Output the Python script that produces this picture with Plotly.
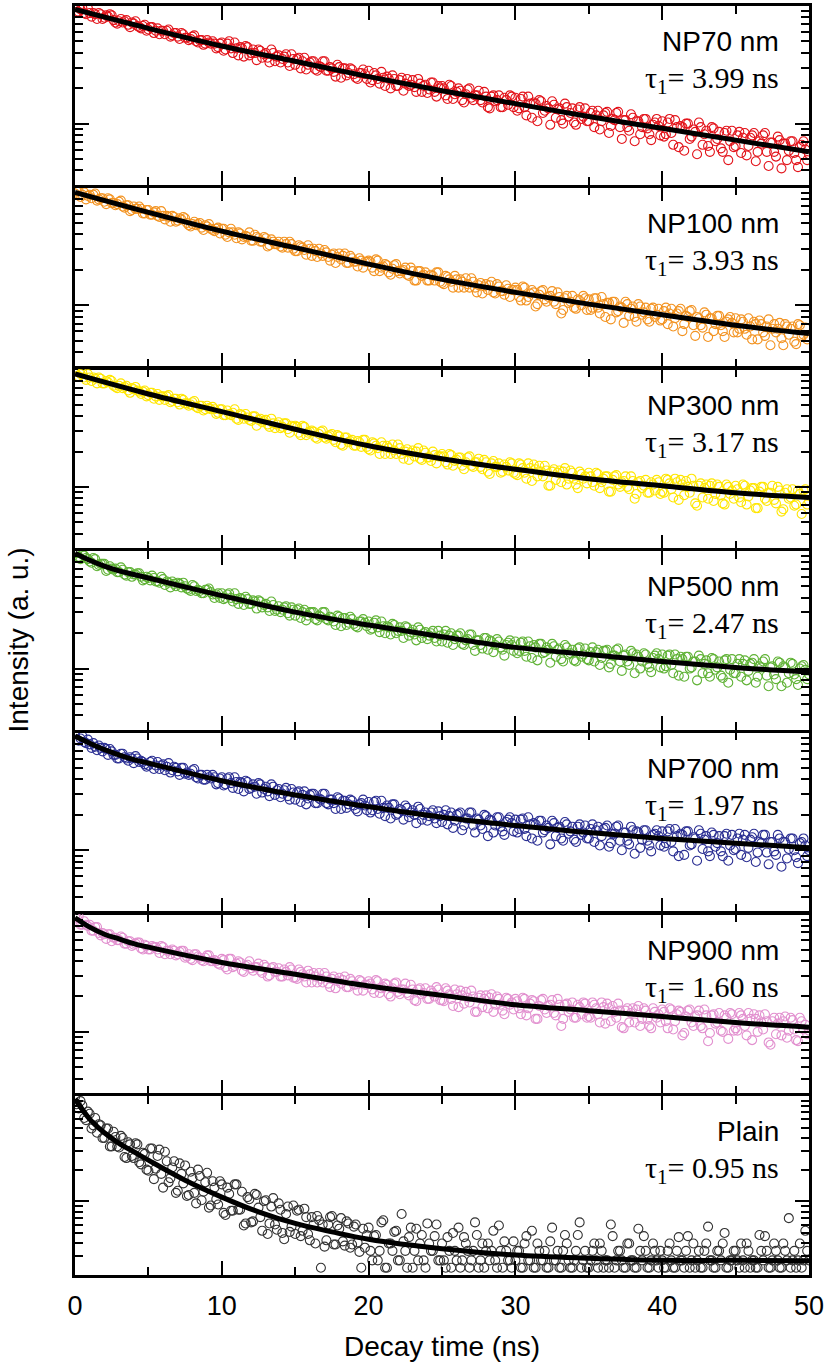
import math
import plotly.graph_objects as go
from plotly.subplots import make_subplots

# ---------------- data ----------------
# time channels (ns)
time_ns = [
    0, 0.25, 0.5, 0.75, 1, 1.25, 1.5, 1.75, 2, 2.25, 2.5, 2.75, 3, 3.25, 3.5, 3.75, 4, 4.25, 4.5, 4.75,
    5, 5.25, 5.5, 5.75, 6, 6.25, 6.5, 6.75, 7, 7.25, 7.5, 7.75, 8, 8.25, 8.5, 8.75, 9, 9.25, 9.5, 9.75,
    10, 10.25, 10.5, 10.75, 11, 11.25, 11.5, 11.75, 12, 12.25, 12.5, 12.75, 13, 13.25, 13.5, 13.75, 14, 14.25, 14.5, 14.75,
    15, 15.25, 15.5, 15.75, 16, 16.25, 16.5, 16.75, 17, 17.25, 17.5, 17.75, 18, 18.25, 18.5, 18.75, 19, 19.25, 19.5, 19.75,
    20, 20.25, 20.5, 20.75, 21, 21.25, 21.5, 21.75, 22, 22.25, 22.5, 22.75, 23, 23.25, 23.5, 23.75, 24, 24.25, 24.5, 24.75,
    25, 25.25, 25.5, 25.75, 26, 26.25, 26.5, 26.75, 27, 27.25, 27.5, 27.75, 28, 28.25, 28.5, 28.75, 29, 29.25, 29.5, 29.75,
    30, 30.25, 30.5, 30.75, 31, 31.25, 31.5, 31.75, 32, 32.25, 32.5, 32.75, 33, 33.25, 33.5, 33.75, 34, 34.25, 34.5, 34.75,
    35, 35.25, 35.5, 35.75, 36, 36.25, 36.5, 36.75, 37, 37.25, 37.5, 37.75, 38, 38.25, 38.5, 38.75, 39, 39.25, 39.5, 39.75,
    40, 40.25, 40.5, 40.75, 41, 41.25, 41.5, 41.75, 42, 42.25, 42.5, 42.75, 43, 43.25, 43.5, 43.75, 44, 44.25, 44.5, 44.75,
    45, 45.25, 45.5, 45.75, 46, 46.25, 46.5, 46.75, 47, 47.25, 47.5, 47.75, 48, 48.25, 48.5, 48.75, 49, 49.25, 49.5, 49.75,
    50,
]
time_ns_half = [
    0.125, 0.375, 0.625, 0.875, 1.125, 1.375, 1.625, 1.875, 2.125, 2.375, 2.625, 2.875, 3.125, 3.375, 3.625, 3.875, 4.125, 4.375, 4.625, 4.875,
    5.125, 5.375, 5.625, 5.875, 6.125, 6.375, 6.625, 6.875, 7.125, 7.375, 7.625, 7.875, 8.125, 8.375, 8.625, 8.875, 9.125, 9.375, 9.625, 9.875,
    10.125, 10.375, 10.625, 10.875, 11.125, 11.375, 11.625, 11.875, 12.125, 12.375, 12.625, 12.875, 13.125, 13.375, 13.625, 13.875, 14.125, 14.375, 14.625, 14.875,
    15.125, 15.375, 15.625, 15.875, 16.125, 16.375, 16.625, 16.875, 17.125, 17.375, 17.625, 17.875, 18.125, 18.375, 18.625, 18.875, 19.125, 19.375, 19.625, 19.875,
    20.125, 20.375, 20.625, 20.875, 21.125, 21.375, 21.625, 21.875, 22.125, 22.375, 22.625, 22.875, 23.125, 23.375, 23.625, 23.875, 24.125, 24.375, 24.625, 24.875,
    25.125, 25.375, 25.625, 25.875, 26.125, 26.375, 26.625, 26.875, 27.125, 27.375, 27.625, 27.875, 28.125, 28.375, 28.625, 28.875, 29.125, 29.375, 29.625, 29.875,
    30.125, 30.375, 30.625, 30.875, 31.125, 31.375, 31.625, 31.875, 32.125, 32.375, 32.625, 32.875, 33.125, 33.375, 33.625, 33.875, 34.125, 34.375, 34.625, 34.875,
    35.125, 35.375, 35.625, 35.875, 36.125, 36.375, 36.625, 36.875, 37.125, 37.375, 37.625, 37.875, 38.125, 38.375, 38.625, 38.875, 39.125, 39.375, 39.625, 39.875,
    40.125, 40.375, 40.625, 40.875, 41.125, 41.375, 41.625, 41.875, 42.125, 42.375, 42.625, 42.875, 43.125, 43.375, 43.625, 43.875, 44.125, 44.375, 44.625, 44.875,
    45.125, 45.375, 45.625, 45.875, 46.125, 46.375, 46.625, 46.875, 47.125, 47.375, 47.625, 47.875, 48.125, 48.375, 48.625, 48.875, 49.125, 49.375, 49.625, 49.875,
]

# measured decays, log10(intensity, a.u.), on the time_ns channels
np70_log = [
    1.99, 1.95, 1.98, 1.93, 1.94, 1.94, 1.89, 1.93, 1.90, 1.91, 1.92, 1.86, 1.87, 1.86, 1.88, 1.82, 1.85, 1.83, 1.81, 1.84,
    1.80, 1.82, 1.79, 1.76, 1.79, 1.79, 1.74, 1.77, 1.74, 1.77, 1.73, 1.71, 1.74, 1.70, 1.71, 1.67, 1.71, 1.68, 1.68, 1.65,
    1.69, 1.63, 1.70, 1.60, 1.64, 1.65, 1.57, 1.65, 1.60, 1.60, 1.63, 1.56, 1.60, 1.52, 1.60, 1.57, 1.52, 1.57, 1.52, 1.59,
    1.50, 1.56, 1.53, 1.46, 1.52, 1.53, 1.45, 1.48, 1.53, 1.45, 1.47, 1.40, 1.48, 1.47, 1.41, 1.47, 1.42, 1.38, 1.43, 1.42,
    1.45, 1.37, 1.41, 1.34, 1.39, 1.40, 1.30, 1.38, 1.32, 1.39, 1.34, 1.32, 1.37, 1.27, 1.34, 1.32, 1.26, 1.35, 1.27, 1.32,
    1.32, 1.24, 1.33, 1.21, 1.27, 1.28, 1.18, 1.29, 1.22, 1.24, 1.28, 1.18, 1.23, 1.13, 1.24, 1.20, 1.14, 1.22, 1.16, 1.23,
    1.22, 1.13, 1.23, 1.07, 1.17, 1.18, 1.02, 1.19, 1.11, 1.13, 1.19, 1.05, 1.13, 1.00, 1.14, 1.09, 1.01, 1.12, 1.04, 1.13,
    1.02, 1.11, 1.07, 0.95, 1.07, 1.10, 0.98, 1.03, 1.10, 0.87, 1.03, 0.94, 1.05, 1.02, 0.91, 1.04, 0.96, 0.86, 1.01, 0.98,
    1.02, 0.91, 1.04, 0.82, 0.97, 0.98, 0.77, 1.00, 0.89, 0.93, 1.01, 0.82, 0.94, 0.76, 0.96, 0.87, 0.79, 0.92, 0.69, 0.94,
    0.81, 0.93, 0.88, 0.73, 0.88, 0.92, 0.76, 0.83, 0.92, 0.64, 0.84, 0.72, 0.86, 0.83, 0.69, 0.85, 0.75, 0.63, 0.82, 0.78,
    0.74,
]
np100_log = [
    1.95, 1.97, 1.94, 1.90, 1.94, 1.94, 1.89, 1.91, 1.88, 1.91, 1.87, 1.85, 1.88, 1.84, 1.85, 1.80, 1.84, 1.82, 1.82, 1.78,
    1.81, 1.77, 1.80, 1.75, 1.76, 1.76, 1.71, 1.75, 1.72, 1.73, 1.74, 1.68, 1.69, 1.68, 1.70, 1.64, 1.67, 1.65, 1.63, 1.66,
    1.65, 1.60, 1.62, 1.62, 1.57, 1.61, 1.58, 1.58, 1.55, 1.60, 1.57, 1.54, 1.57, 1.51, 1.54, 1.52, 1.50, 1.54, 1.49, 1.52,
    1.46, 1.51, 1.49, 1.43, 1.48, 1.48, 1.41, 1.44, 1.47, 1.41, 1.43, 1.36, 1.44, 1.42, 1.36, 1.42, 1.37, 1.33, 1.38, 1.37,
    1.38, 1.32, 1.39, 1.29, 1.33, 1.34, 1.26, 1.34, 1.29, 1.29, 1.32, 1.25, 1.29, 1.21, 1.29, 1.26, 1.21, 1.26, 1.21, 1.28,
    1.19, 1.25, 1.22, 1.15, 1.22, 1.22, 1.15, 1.18, 1.23, 1.15, 1.17, 1.10, 1.18, 1.17, 1.11, 1.18, 1.12, 1.09, 1.14, 1.13,
    1.15, 1.07, 1.16, 1.04, 1.10, 1.11, 1.01, 1.12, 1.05, 1.07, 1.12, 1.01, 1.07, 0.96, 1.08, 1.03, 0.98, 1.05, 1.00, 1.06,
    1.05, 0.98, 1.06, 0.93, 1.01, 1.02, 0.88, 1.03, 0.95, 0.98, 1.03, 0.91, 0.99, 0.86, 0.99, 0.94, 0.88, 0.97, 0.90, 0.97,
    0.88, 0.98, 0.93, 0.82, 0.93, 0.97, 0.84, 0.90, 0.96, 0.74, 0.89, 0.81, 0.92, 0.89, 0.78, 0.91, 0.83, 0.73, 0.88, 0.85,
    0.89, 0.80, 0.86, 0.75, 0.82, 0.86, 0.71, 0.84, 0.74, 0.88, 0.80, 0.77, 0.85, 0.66, 0.82, 0.80, 0.69, 0.84, 0.74, 0.81,
    0.73,
]
np300_log = [
    1.98, 1.94, 1.97, 1.91, 1.93, 1.93, 1.88, 1.92, 1.88, 1.89, 1.90, 1.85, 1.86, 1.84, 1.86, 1.80, 1.83, 1.82, 1.79, 1.82,
    1.78, 1.80, 1.77, 1.74, 1.77, 1.77, 1.72, 1.75, 1.72, 1.75, 1.71, 1.69, 1.72, 1.68, 1.69, 1.65, 1.69, 1.66, 1.66, 1.63,
    1.66, 1.61, 1.62, 1.63, 1.58, 1.62, 1.58, 1.59, 1.56, 1.60, 1.57, 1.55, 1.57, 1.51, 1.54, 1.53, 1.50, 1.54, 1.49, 1.52,
    1.52, 1.46, 1.52, 1.44, 1.47, 1.47, 1.41, 1.47, 1.42, 1.43, 1.45, 1.38, 1.43, 1.35, 1.42, 1.39, 1.35, 1.39, 1.34, 1.40,
    1.32, 1.38, 1.35, 1.28, 1.35, 1.35, 1.28, 1.31, 1.36, 1.28, 1.30, 1.23, 1.31, 1.30, 1.24, 1.31, 1.25, 1.22, 1.27, 1.26,
    1.28, 1.21, 1.28, 1.18, 1.23, 1.25, 1.15, 1.25, 1.18, 1.21, 1.24, 1.15, 1.21, 1.11, 1.22, 1.17, 1.12, 1.19, 1.14, 1.20,
    1.11, 1.20, 1.16, 1.07, 1.16, 1.19, 1.09, 1.13, 1.18, 1.01, 1.13, 1.06, 1.14, 1.13, 1.02, 1.14, 1.07, 0.99, 1.11, 1.09,
    1.12, 1.04, 1.12, 0.99, 1.07, 1.09, 0.96, 1.09, 1.02, 1.04, 1.09, 0.98, 1.05, 0.94, 1.05, 1.01, 0.95, 1.04, 0.97, 1.04,
    0.96, 1.07, 1.03, 0.91, 1.04, 1.06, 0.93, 1.00, 1.07, 0.86, 1.01, 0.91, 1.02, 1.01, 0.88, 1.02, 0.93, 0.85, 1.00, 0.97,
    1.01, 0.91, 1.02, 0.85, 0.97, 0.99, 0.82, 1.00, 0.90, 0.95, 1.01, 0.86, 0.97, 0.81, 0.98, 0.91, 0.84, 0.97, 0.77, 0.98,
    0.88,
]
np500_log = [
    1.99, 1.95, 1.97, 1.94, 1.91, 1.94, 1.87, 1.89, 1.89, 1.84, 1.85, 1.85, 1.82, 1.84, 1.79, 1.82, 1.80, 1.81, 1.78, 1.76,
    1.77, 1.79, 1.74, 1.73, 1.76, 1.74, 1.69, 1.72, 1.73, 1.69, 1.70, 1.67, 1.71, 1.66, 1.66, 1.64, 1.67, 1.65, 1.60, 1.64,
    1.64, 1.60, 1.64, 1.57, 1.59, 1.60, 1.54, 1.59, 1.55, 1.57, 1.58, 1.52, 1.55, 1.49, 1.54, 1.50, 1.48, 1.52, 1.47, 1.52,
    1.45, 1.51, 1.48, 1.41, 1.48, 1.48, 1.41, 1.44, 1.48, 1.41, 1.43, 1.37, 1.44, 1.43, 1.37, 1.44, 1.38, 1.35, 1.40, 1.39,
    1.40, 1.34, 1.41, 1.31, 1.36, 1.36, 1.29, 1.37, 1.32, 1.32, 1.36, 1.28, 1.33, 1.24, 1.33, 1.30, 1.25, 1.30, 1.26, 1.32,
    1.23, 1.32, 1.28, 1.20, 1.28, 1.30, 1.20, 1.25, 1.29, 1.15, 1.24, 1.17, 1.26, 1.24, 1.14, 1.25, 1.18, 1.11, 1.22, 1.20,
    1.23, 1.15, 1.23, 1.10, 1.19, 1.20, 1.07, 1.21, 1.14, 1.16, 1.21, 1.10, 1.17, 1.06, 1.18, 1.13, 1.07, 1.17, 1.10, 1.17,
    1.07, 1.18, 1.14, 1.03, 1.15, 1.16, 1.04, 1.11, 1.17, 0.98, 1.12, 1.03, 1.13, 1.12, 1.00, 1.13, 1.04, 0.97, 1.11, 1.08,
    1.12, 1.02, 1.12, 0.96, 1.08, 1.10, 0.93, 1.10, 1.01, 1.06, 1.11, 0.96, 1.07, 0.93, 1.08, 1.01, 0.94, 1.07, 0.88, 1.08,
    0.96, 1.08, 1.04, 0.90, 1.04, 1.08, 0.93, 1.01, 1.08, 0.85, 1.02, 0.91, 1.05, 1.02, 0.88, 1.05, 0.95, 0.86, 1.02, 0.99,
    0.95,
]
np700_log = [
    1.99, 1.93, 1.97, 1.91, 1.90, 1.91, 1.85, 1.87, 1.87, 1.81, 1.84, 1.81, 1.78, 1.82, 1.78, 1.79, 1.74, 1.78, 1.76, 1.73,
    1.72, 1.76, 1.72, 1.69, 1.73, 1.71, 1.66, 1.71, 1.67, 1.70, 1.65, 1.64, 1.68, 1.62, 1.64, 1.60, 1.64, 1.61, 1.62, 1.57,
    1.62, 1.56, 1.62, 1.53, 1.58, 1.58, 1.50, 1.58, 1.53, 1.54, 1.57, 1.49, 1.54, 1.46, 1.54, 1.51, 1.45, 1.51, 1.46, 1.52,
    1.43, 1.50, 1.47, 1.39, 1.47, 1.48, 1.40, 1.43, 1.48, 1.39, 1.43, 1.35, 1.44, 1.42, 1.36, 1.43, 1.38, 1.33, 1.40, 1.38,
    1.41, 1.34, 1.42, 1.31, 1.36, 1.38, 1.27, 1.39, 1.31, 1.34, 1.38, 1.28, 1.34, 1.23, 1.35, 1.30, 1.25, 1.32, 1.27, 1.33,
    1.24, 1.34, 1.29, 1.19, 1.30, 1.32, 1.21, 1.27, 1.32, 1.15, 1.26, 1.18, 1.29, 1.26, 1.15, 1.28, 1.20, 1.13, 1.26, 1.23,
    1.26, 1.18, 1.27, 1.12, 1.22, 1.23, 1.08, 1.25, 1.17, 1.19, 1.25, 1.12, 1.20, 1.08, 1.22, 1.16, 1.09, 1.20, 1.13, 1.21,
    1.10, 1.22, 1.17, 1.04, 1.18, 1.21, 1.06, 1.14, 1.21, 1.00, 1.15, 1.05, 1.17, 1.16, 1.02, 1.17, 1.08, 0.99, 1.14, 1.12,
    1.16, 1.06, 1.18, 0.99, 1.12, 1.14, 0.96, 1.16, 1.05, 1.10, 1.17, 1.01, 1.12, 0.95, 1.13, 1.06, 0.99, 1.12, 0.91, 1.13,
    1.01, 1.14, 1.09, 0.94, 1.09, 1.14, 0.98, 1.06, 1.13, 0.88, 1.07, 0.96, 1.10, 1.07, 0.93, 1.10, 1.00, 0.89, 1.07, 1.04,
    1.00,
]
np900_log = [
    1.98, 1.98, 1.91, 1.91, 1.91, 1.86, 1.89, 1.82, 1.83, 1.83, 1.77, 1.80, 1.78, 1.80, 1.75, 1.77, 1.74, 1.76, 1.71, 1.74,
    1.70, 1.73, 1.72, 1.67, 1.72, 1.69, 1.66, 1.69, 1.66, 1.69, 1.63, 1.66, 1.61, 1.66, 1.63, 1.60, 1.65, 1.60, 1.61, 1.58,
    1.62, 1.55, 1.62, 1.55, 1.58, 1.59, 1.51, 1.57, 1.54, 1.55, 1.58, 1.50, 1.55, 1.48, 1.55, 1.51, 1.47, 1.53, 1.48, 1.53,
    1.46, 1.53, 1.49, 1.42, 1.49, 1.50, 1.42, 1.45, 1.50, 1.41, 1.45, 1.37, 1.46, 1.44, 1.38, 1.45, 1.40, 1.35, 1.43, 1.40,
    1.43, 1.36, 1.44, 1.33, 1.38, 1.40, 1.30, 1.41, 1.34, 1.36, 1.41, 1.31, 1.36, 1.26, 1.37, 1.33, 1.28, 1.35, 1.30, 1.36,
    1.27, 1.37, 1.32, 1.22, 1.32, 1.35, 1.24, 1.29, 1.35, 1.17, 1.29, 1.21, 1.31, 1.29, 1.17, 1.30, 1.23, 1.15, 1.28, 1.25,
    1.28, 1.20, 1.29, 1.14, 1.24, 1.26, 1.11, 1.27, 1.19, 1.22, 1.27, 1.14, 1.23, 1.11, 1.24, 1.19, 1.12, 1.23, 1.15, 1.24,
    1.13, 1.25, 1.20, 1.08, 1.21, 1.24, 1.09, 1.17, 1.24, 1.04, 1.18, 1.08, 1.20, 1.19, 1.05, 1.20, 1.11, 1.03, 1.17, 1.15,
    1.19, 1.09, 1.20, 1.02, 1.15, 1.17, 0.99, 1.18, 1.08, 1.13, 1.18, 1.03, 1.14, 0.99, 1.15, 1.08, 1.01, 1.14, 0.94, 1.15,
    1.03, 1.16, 1.11, 0.97, 1.11, 1.15, 1.00, 1.08, 1.15, 0.91, 1.09, 0.98, 1.12, 1.09, 0.95, 1.12, 1.02, 0.92, 1.09, 1.06,
    1.01,
]
plain_log = [
    1.99, 1.88, 1.91, 1.77, 1.83, 1.72, 1.65, 1.72, 1.60, 1.69, 1.52, 1.61, 1.51, 1.60, 1.41, 1.54, 1.41, 1.54, 1.35, 1.45,
    1.29, 1.50, 1.31, 1.49, 1.13, 1.38, 1.22, 1.38, 1.10, 1.26, 1.34, 1.06, 1.22, 0.98, 1.24, 1.09, 1.27, 0.96, 1.13, 0.97,
    1.16, 0.87, 1.07, 0.91, 1.16, 0.92, 0.77, 1.04, 0.80, 1.07, 0.94, 0.72, 1.01, 0.79, 1.03, 0.73, 0.92, 0.64, 0.95, 0.76,
    0.69, 0.92, 0.72, 0.85, 0.63, 0.78, 0.86, 0.37, 0.57, 0.78, 0.86, 0.59, 0.74, 0.62, 0.81, 0.56, 0.76, 0.61, 0.37, 0.56,
    0.75, 0.44, 0.68, 0.53, 0.82, 0.37, 0.60, 0.71, 0.44, 0.88, 0.53, 0.66, 0.37, 0.74, 0.60, 0.44, 0.79, 0.53, 0.67, 0.44,
    0.60, 0.37, 0.53, 0.70, 0.44, 0.37, 0.66, 0.53, 0.44, 0.80, 0.37, 0.60, 0.53, 0.44, 0.72, 0.37, 0.53, 0.62, 0.44, 0.37,
    0.44, 0.53, 0.37, 0.67, 0.44, 0.37, 0.60, 0.44, 0.53, 0.37, 0.75, 0.44, 0.37, 0.53, 0.60, 0.37, 0.44, 0.68, 0.37, 0.53,
    0.37, 0.53, 0.44, 0.60, 0.37, 0.44, 0.78, 0.37, 0.53, 0.44, 0.37, 0.60, 0.44, 0.37, 0.53, 0.67, 0.37, 0.44, 0.53, 0.37,
    0.44, 0.37, 0.60, 0.37, 0.53, 0.44, 0.37, 0.67, 0.44, 0.37, 0.53, 0.37, 0.60, 0.44, 0.37, 0.53, 0.44, 0.70, 0.37, 0.44,
    0.53, 0.37, 0.44, 0.60, 0.37, 0.44, 0.37, 0.53, 0.67, 0.37, 0.44, 0.53, 0.37, 0.60, 0.44, 0.37, 0.53, 0.44, 0.37, 0.72,
    0.44,
]

# measured decays on the time_ns_half channels, log10(intensity, a.u.)
np70_log_half = [
    1.95, 1.97, 1.94, 1.98, 1.91, 1.93, 1.94, 1.89, 1.92, 1.93, 1.88, 1.85, 1.89, 1.87, 1.84, 1.86, 1.87, 1.82, 1.83, 1.79,
    1.82, 1.77, 1.81, 1.79, 1.76, 1.80, 1.75, 1.77, 1.72, 1.76, 1.73, 1.72, 1.75, 1.69, 1.71, 1.68, 1.69, 1.70, 1.64, 1.68,
    1.62, 1.68, 1.64, 1.69, 1.58, 1.64, 1.66, 1.58, 1.63, 1.54, 1.62, 1.59, 1.56, 1.63, 1.53, 1.58, 1.55, 1.59, 1.49, 1.55,
    1.55, 1.47, 1.56, 1.50, 1.53, 1.46, 1.49, 1.53, 1.45, 1.48, 1.44, 1.50, 1.39, 1.47, 1.43, 1.46, 1.39, 1.43, 1.46, 1.38,
    1.35, 1.43, 1.38, 1.44, 1.32, 1.38, 1.41, 1.32, 1.37, 1.28, 1.38, 1.33, 1.31, 1.38, 1.27, 1.33, 1.29, 1.35, 1.23, 1.30,
    1.30, 1.21, 1.32, 1.25, 1.30, 1.20, 1.25, 1.30, 1.20, 1.24, 1.20, 1.27, 1.14, 1.23, 1.19, 1.24, 1.14, 1.20, 1.24, 1.14,
    1.11, 1.21, 1.14, 1.23, 1.05, 1.17, 1.20, 1.09, 1.15, 0.99, 1.16, 1.12, 1.03, 1.17, 1.06, 1.13, 0.99, 1.14, 1.06, 1.02,
    1.09, 0.97, 1.11, 1.02, 1.09, 0.92, 1.04, 1.09, 0.97, 1.03, 0.97, 1.08, 0.85, 1.02, 0.97, 1.04, 0.91, 0.99, 1.04, 0.90,
    0.89, 1.01, 0.92, 1.03, 0.80, 0.97, 1.00, 0.87, 0.95, 0.74, 0.97, 0.91, 0.81, 0.97, 0.85, 0.93, 0.76, 0.94, 0.85, 0.80,
    0.90, 0.75, 0.92, 0.81, 0.90, 0.68, 0.85, 0.90, 0.76, 0.84, 0.76, 0.89, 0.62, 0.83, 0.77, 0.85, 0.69, 0.80, 0.85, 0.69,
]
np100_log_half = [
    1.97, 1.92, 1.96, 1.93, 1.91, 1.95, 1.90, 1.91, 1.86, 1.90, 1.87, 1.86, 1.89, 1.83, 1.85, 1.81, 1.82, 1.84, 1.78, 1.81,
    1.77, 1.79, 1.76, 1.80, 1.73, 1.75, 1.76, 1.71, 1.74, 1.75, 1.70, 1.67, 1.71, 1.69, 1.66, 1.68, 1.69, 1.64, 1.65, 1.61,
    1.65, 1.58, 1.65, 1.60, 1.62, 1.56, 1.59, 1.62, 1.55, 1.58, 1.54, 1.58, 1.50, 1.56, 1.52, 1.54, 1.49, 1.52, 1.54, 1.48,
    1.46, 1.50, 1.47, 1.51, 1.42, 1.46, 1.48, 1.42, 1.45, 1.38, 1.44, 1.41, 1.39, 1.44, 1.36, 1.40, 1.37, 1.40, 1.32, 1.37,
    1.37, 1.29, 1.38, 1.32, 1.35, 1.28, 1.31, 1.35, 1.27, 1.30, 1.26, 1.32, 1.21, 1.29, 1.25, 1.28, 1.21, 1.25, 1.28, 1.20,
    1.18, 1.24, 1.20, 1.25, 1.15, 1.20, 1.23, 1.15, 1.20, 1.11, 1.19, 1.16, 1.13, 1.20, 1.10, 1.16, 1.12, 1.17, 1.07, 1.13,
    1.13, 1.04, 1.15, 1.07, 1.13, 0.99, 1.09, 1.13, 1.03, 1.08, 1.03, 1.11, 0.93, 1.06, 1.02, 1.08, 0.97, 1.04, 1.08, 0.96,
    0.96, 1.06, 0.98, 1.07, 0.90, 1.02, 1.03, 0.94, 0.99, 0.85, 1.01, 0.97, 0.90, 1.01, 0.92, 0.98, 0.86, 0.98, 0.92, 0.87,
    0.95, 0.84, 0.97, 0.89, 0.95, 0.78, 0.91, 0.95, 0.83, 0.90, 0.83, 0.94, 0.73, 0.89, 0.84, 0.91, 0.78, 0.86, 0.90, 0.77,
    0.77, 0.88, 0.80, 0.89, 0.71, 0.84, 0.87, 0.77, 0.82, 0.66, 0.84, 0.80, 0.72, 0.84, 0.75, 0.82, 0.67, 0.83, 0.75, 0.71,
]
np300_log_half = [
    1.94, 1.96, 1.93, 1.96, 1.90, 1.92, 1.93, 1.88, 1.90, 1.91, 1.86, 1.84, 1.88, 1.85, 1.82, 1.84, 1.85, 1.81, 1.81, 1.77,
    1.80, 1.75, 1.79, 1.77, 1.74, 1.78, 1.73, 1.75, 1.70, 1.74, 1.71, 1.70, 1.73, 1.67, 1.69, 1.66, 1.67, 1.68, 1.62, 1.66,
    1.61, 1.65, 1.61, 1.66, 1.57, 1.61, 1.62, 1.57, 1.60, 1.52, 1.58, 1.56, 1.53, 1.58, 1.50, 1.55, 1.51, 1.54, 1.46, 1.51,
    1.51, 1.44, 1.51, 1.46, 1.48, 1.42, 1.45, 1.48, 1.41, 1.44, 1.40, 1.44, 1.36, 1.42, 1.38, 1.40, 1.35, 1.38, 1.40, 1.34,
    1.31, 1.37, 1.33, 1.38, 1.28, 1.33, 1.36, 1.28, 1.33, 1.24, 1.32, 1.29, 1.26, 1.33, 1.23, 1.29, 1.25, 1.30, 1.20, 1.26,
    1.26, 1.19, 1.27, 1.22, 1.25, 1.18, 1.21, 1.26, 1.17, 1.21, 1.17, 1.23, 1.13, 1.20, 1.17, 1.20, 1.13, 1.17, 1.21, 1.12,
    1.10, 1.19, 1.12, 1.20, 1.05, 1.15, 1.18, 1.09, 1.14, 1.01, 1.15, 1.12, 1.04, 1.16, 1.07, 1.12, 1.02, 1.13, 1.07, 1.03,
    1.09, 1.01, 1.11, 1.04, 1.09, 0.96, 1.06, 1.10, 1.00, 1.05, 1.00, 1.09, 0.90, 1.04, 0.99, 1.06, 0.95, 1.02, 1.06, 0.94,
    0.95, 1.06, 0.98, 1.07, 0.89, 1.02, 1.05, 0.95, 1.01, 0.84, 1.03, 0.99, 0.90, 1.03, 0.94, 1.00, 0.86, 1.02, 0.94, 0.90,
    0.98, 0.87, 1.01, 0.92, 0.99, 0.82, 0.96, 1.00, 0.88, 0.95, 0.89, 1.00, 0.79, 0.95, 0.90, 0.98, 0.85, 0.94, 0.97, 0.85,
]
np500_log_half = [
    1.98, 1.93, 1.96, 1.93, 1.90, 1.93, 1.88, 1.89, 1.83, 1.87, 1.84, 1.82, 1.86, 1.80, 1.82, 1.78, 1.80, 1.81, 1.75, 1.78,
    1.75, 1.77, 1.74, 1.78, 1.71, 1.73, 1.74, 1.70, 1.72, 1.73, 1.68, 1.66, 1.70, 1.67, 1.64, 1.67, 1.68, 1.63, 1.63, 1.60,
    1.59, 1.63, 1.60, 1.64, 1.55, 1.59, 1.61, 1.55, 1.58, 1.51, 1.57, 1.54, 1.52, 1.57, 1.49, 1.53, 1.50, 1.53, 1.45, 1.50,
    1.50, 1.43, 1.50, 1.45, 1.48, 1.42, 1.45, 1.48, 1.42, 1.44, 1.40, 1.45, 1.36, 1.43, 1.39, 1.42, 1.36, 1.40, 1.42, 1.36,
    1.33, 1.39, 1.35, 1.40, 1.30, 1.35, 1.38, 1.30, 1.35, 1.26, 1.35, 1.31, 1.29, 1.35, 1.26, 1.31, 1.28, 1.32, 1.23, 1.28,
    1.29, 1.22, 1.30, 1.25, 1.28, 1.21, 1.24, 1.29, 1.20, 1.24, 1.20, 1.26, 1.16, 1.23, 1.20, 1.23, 1.16, 1.20, 1.24, 1.15,
    1.13, 1.22, 1.15, 1.23, 1.09, 1.18, 1.21, 1.13, 1.18, 1.05, 1.19, 1.16, 1.08, 1.20, 1.12, 1.16, 1.06, 1.18, 1.12, 1.08,
    1.14, 1.06, 1.16, 1.09, 1.15, 1.01, 1.11, 1.16, 1.06, 1.11, 1.06, 1.15, 0.96, 1.10, 1.06, 1.12, 1.01, 1.09, 1.13, 1.01,
    1.00, 1.11, 1.03, 1.12, 0.94, 1.08, 1.10, 1.00, 1.06, 0.90, 1.08, 1.04, 0.96, 1.09, 0.99, 1.06, 0.92, 1.08, 0.99, 0.96,
    1.04, 0.93, 1.07, 0.98, 1.05, 0.88, 1.02, 1.06, 0.94, 1.01, 0.95, 1.06, 0.85, 1.01, 0.96, 1.04, 0.91, 1.00, 1.03, 0.91,
]
np700_log_half = [
    1.94, 1.95, 1.92, 1.94, 1.87, 1.88, 1.89, 1.84, 1.86, 1.86, 1.81, 1.78, 1.82, 1.79, 1.76, 1.78, 1.80, 1.75, 1.75, 1.71,
    1.75, 1.69, 1.75, 1.72, 1.68, 1.74, 1.68, 1.70, 1.64, 1.70, 1.66, 1.65, 1.69, 1.61, 1.64, 1.60, 1.62, 1.64, 1.56, 1.61,
    1.55, 1.61, 1.57, 1.62, 1.52, 1.57, 1.59, 1.52, 1.56, 1.48, 1.56, 1.52, 1.50, 1.56, 1.47, 1.52, 1.48, 1.53, 1.43, 1.49,
    1.49, 1.41, 1.50, 1.44, 1.48, 1.40, 1.44, 1.48, 1.40, 1.43, 1.40, 1.45, 1.35, 1.42, 1.39, 1.42, 1.35, 1.39, 1.43, 1.34,
    1.32, 1.41, 1.35, 1.42, 1.29, 1.36, 1.39, 1.30, 1.35, 1.26, 1.36, 1.32, 1.30, 1.37, 1.26, 1.32, 1.29, 1.34, 1.23, 1.29,
    1.30, 1.22, 1.32, 1.25, 1.31, 1.17, 1.27, 1.32, 1.21, 1.27, 1.21, 1.30, 1.12, 1.25, 1.21, 1.28, 1.16, 1.24, 1.28, 1.16,
    1.15, 1.26, 1.18, 1.28, 1.10, 1.22, 1.25, 1.15, 1.21, 1.05, 1.23, 1.19, 1.10, 1.24, 1.14, 1.20, 1.07, 1.22, 1.15, 1.10,
    1.18, 1.07, 1.20, 1.12, 1.19, 1.03, 1.14, 1.20, 1.08, 1.15, 1.08, 1.20, 0.97, 1.15, 1.09, 1.17, 1.04, 1.13, 1.17, 1.04,
    1.03, 1.16, 1.07, 1.18, 0.95, 1.13, 1.16, 1.04, 1.11, 0.91, 1.14, 1.09, 0.99, 1.15, 1.03, 1.12, 0.95, 1.14, 1.04, 1.00,
    1.10, 0.96, 1.13, 1.02, 1.11, 0.90, 1.07, 1.13, 0.98, 1.07, 0.99, 1.13, 0.86, 1.07, 1.01, 1.10, 0.94, 1.06, 1.10, 0.95,
]
np900_log_half = [
    1.97, 1.91, 1.94, 1.90, 1.86, 1.89, 1.84, 1.84, 1.79, 1.83, 1.80, 1.78, 1.81, 1.75, 1.77, 1.73, 1.75, 1.76, 1.70, 1.73,
    1.70, 1.72, 1.70, 1.73, 1.66, 1.69, 1.70, 1.65, 1.68, 1.69, 1.64, 1.62, 1.66, 1.64, 1.61, 1.63, 1.65, 1.60, 1.60, 1.57,
    1.61, 1.53, 1.62, 1.56, 1.60, 1.52, 1.56, 1.60, 1.52, 1.55, 1.52, 1.57, 1.47, 1.54, 1.51, 1.54, 1.47, 1.51, 1.55, 1.46,
    1.45, 1.51, 1.47, 1.52, 1.42, 1.47, 1.50, 1.42, 1.47, 1.38, 1.47, 1.43, 1.41, 1.47, 1.38, 1.43, 1.40, 1.44, 1.35, 1.40,
    1.41, 1.33, 1.43, 1.37, 1.41, 1.32, 1.37, 1.42, 1.32, 1.36, 1.33, 1.40, 1.27, 1.36, 1.32, 1.37, 1.28, 1.33, 1.38, 1.27,
    1.26, 1.35, 1.28, 1.36, 1.21, 1.31, 1.34, 1.25, 1.30, 1.17, 1.31, 1.28, 1.20, 1.32, 1.23, 1.28, 1.18, 1.29, 1.23, 1.19,
    1.26, 1.15, 1.28, 1.20, 1.27, 1.11, 1.22, 1.28, 1.16, 1.23, 1.16, 1.28, 1.05, 1.23, 1.17, 1.25, 1.12, 1.21, 1.25, 1.12,
    1.12, 1.23, 1.15, 1.25, 1.07, 1.20, 1.22, 1.12, 1.18, 1.03, 1.20, 1.16, 1.08, 1.22, 1.11, 1.18, 1.05, 1.20, 1.12, 1.08,
    1.17, 1.03, 1.19, 1.09, 1.18, 0.97, 1.13, 1.19, 1.05, 1.14, 1.05, 1.19, 0.92, 1.14, 1.07, 1.16, 1.00, 1.12, 1.16, 1.01,
    1.01, 1.14, 1.05, 1.16, 0.93, 1.11, 1.14, 1.02, 1.09, 0.89, 1.12, 1.07, 0.97, 1.13, 1.01, 1.10, 0.93, 1.12, 1.02, 0.98,
]
plain_log_half = [
    1.92, 1.95, 1.79, 1.85, 1.69, 1.79, 1.73, 1.60, 1.69, 1.52, 1.66, 1.52, 1.62, 1.42, 1.56, 1.43, 1.55, 1.37, 1.46, 1.30,
    1.50, 1.21, 1.43, 1.26, 1.47, 1.18, 1.32, 1.08, 1.36, 1.17, 1.05, 1.28, 1.08, 1.30, 1.01, 1.18, 0.94, 1.19, 1.02, 1.19,
    0.89, 1.13, 0.91, 1.16, 0.92, 1.09, 0.79, 1.02, 0.81, 1.06, 0.85, 1.00, 0.69, 0.95, 0.78, 0.98, 0.70, 0.88, 0.71, 0.96,
    0.91, 0.67, 0.93, 0.69, 0.85, 0.60, 0.82, 0.78, 0.63, 0.85, 0.59, 0.77, 0.84, 0.58, 0.79, 0.59, 0.78, 0.52, 0.74, 0.68,
    0.53, 0.67, 0.44, 0.80, 0.37, 0.60, 0.53, 0.72, 0.44, 0.62, 0.37, 0.75, 0.53, 0.44, 0.68, 0.37, 0.60, 0.53, 0.78, 0.44,
    0.44, 0.66, 0.37, 0.53, 0.75, 0.44, 0.60, 0.37, 0.53, 0.68, 0.44, 0.37, 0.60, 0.53, 0.44, 0.77, 0.37, 0.53, 0.44, 0.62,
    0.53, 0.37, 0.60, 0.44, 0.72, 0.37, 0.53, 0.44, 0.37, 0.62, 0.44, 0.53, 0.37, 0.68, 0.44, 0.37, 0.53, 0.80, 0.44, 0.37,
    0.44, 0.60, 0.37, 0.53, 0.44, 0.37, 0.67, 0.44, 0.53, 0.37, 0.60, 0.44, 0.37, 0.74, 0.44, 0.53, 0.37, 0.60, 0.44, 0.53,
    0.37, 0.53, 0.44, 0.37, 0.66, 0.44, 0.53, 0.37, 0.60, 0.44, 0.37, 0.53, 0.76, 0.44, 0.37, 0.53, 0.60, 0.37, 0.44, 0.53,
    0.44, 0.60, 0.37, 0.53, 0.44, 0.37, 0.68, 0.44, 0.53, 0.37, 0.60, 0.44, 0.37, 0.53, 0.84, 0.44, 0.37, 0.60, 0.44, 0.53,
]

# fitted curves, log10(intensity) at read-off knots
fit_t_a = [0, 5, 10, 15, 20, 25, 30, 35, 40, 45, 50]
fit_t_b = [0, 1, 2, 3, 4, 5, 10, 15, 20, 25, 30, 35, 40, 45, 50]
fit_t_c = [0, 1, 2, 3, 4, 5, 7.5, 10, 12.5, 15, 17.5, 20, 25, 30, 35, 40, 45, 50]
np70_fit = [1.97, 1.81, 1.66, 1.53, 1.40, 1.28, 1.17, 1.06, 0.96, 0.86, 0.76]
np100_fit = [1.96, 1.79, 1.63, 1.49, 1.35, 1.22, 1.11, 1.01, 0.92, 0.83, 0.76]
np300_fit = [1.96, 1.79, 1.64, 1.49, 1.35, 1.24, 1.15, 1.07, 1.01, 0.95, 0.91]
np500_fit = [1.98, 1.92, 1.87, 1.83, 1.80, 1.77, 1.62, 1.48, 1.37, 1.27, 1.18, 1.12, 1.06, 1.01, 0.97]
np700_fit = [1.97, 1.91, 1.855, 1.81, 1.77, 1.74, 1.59, 1.47, 1.37, 1.28, 1.21, 1.15, 1.10, 1.06, 1.02]
np900_fit = [1.97, 1.89, 1.83, 1.79, 1.75, 1.72, 1.59, 1.49, 1.39, 1.31, 1.23, 1.18, 1.13, 1.08, 1.04]
plain_fit = [1.97, 1.78, 1.65, 1.55, 1.47, 1.39, 1.20, 1.04, 0.90, 0.79, 0.71, 0.64, 0.55, 0.49, 0.46, 0.44, 0.44, 0.435]

sample_names = ["NP70 nm", "NP100 nm", "NP300 nm", "NP500 nm", "NP700 nm", "NP900 nm", "Plain"]
tau1_ns = ["3.99", "3.93", "3.17", "2.47", "1.97", "1.60", "0.95"]
y_lower = [3, 3, 3, 3, 3, 3, 2]
y_upper = 100
x_ticks = [0, 10, 20, 30, 40, 50]

# ---------------- styling ----------------
colors = ["#e3141b", "#f39321", "#ffe600", "#5fb235", "#2b2f93", "#e290cf", "#333333"]
SANS = "Liberation Sans, Arial, sans-serif"
SERIF = "Liberation Serif, Times New Roman, serif"
LW = 2.5  # frame line width

data_sets = [np70_log, np100_log, np300_log, np500_log, np700_log, np900_log, plain_log]
half_sets = [np70_log_half, np100_log_half, np300_log_half, np500_log_half,
             np700_log_half, np900_log_half, plain_log_half]
fit_times = [fit_t_a, fit_t_a, fit_t_a, fit_t_b, fit_t_b, fit_t_b, fit_t_c]
fit_sets = [np70_fit, np100_fit, np300_fit, np500_fit, np700_fit, np900_fit, plain_fit]

W, H = 827, 1371
M_L, M_R, M_T, M_B = 75, 18, 3, 96
plot_h = H - M_T - M_B

fig = make_subplots(rows=7, cols=1, shared_xaxes=True, vertical_spacing=LW / plot_h)

for i in range(7):
    row = i + 1
    v1 = data_sets[i]
    v2 = half_sets[i]
    n1 = min(len(time_ns), len(v1))
    n2 = min(len(time_ns_half), len(v2))
    xs = list(time_ns[:n1]) + list(time_ns_half[:n2])
    ys = [10 ** v for v in v1[:n1]] + [10 ** v for v in v2[:n2]]
    fig.add_trace(go.Scatter(
        x=xs, y=ys, mode="markers",
        marker=dict(symbol="circle-open", size=9, color=colors[i],
                    line=dict(width=1.1, color=colors[i])),
        showlegend=False, hoverinfo="skip"), row=row, col=1)
    fig.add_trace(go.Scatter(
        x=fit_times[i], y=[10 ** v for v in fit_sets[i]], mode="lines",
        line=dict(color="black", width=5, shape="spline", smoothing=1.0),
        showlegend=False, hoverinfo="skip"), row=row, col=1)

    suffix = "" if row == 1 else str(row)
    fig.add_annotation(
        x=0.962, y=0.80, xref=f"x{suffix} domain", yref=f"y{suffix} domain",
        text=sample_names[i], showarrow=False, xanchor="right", yanchor="middle",
        font=dict(family=SANS, size=28, color="black"))
    fig.add_annotation(
        x=0.962, y=0.585, xref=f"x{suffix} domain", yref=f"y{suffix} domain",
        text=f"τ<sub>1</sub>= {tau1_ns[i]} ns", showarrow=False, xanchor="right",
        yanchor="middle", font=dict(family=SERIF, size=30, color="black"))

    fig.update_yaxes(range=[math.log10(y_lower[i]), math.log10(y_upper)], row=row, col=1)

fig.update_xaxes(
    range=[0, 50], tickvals=x_ticks, ticks="inside", ticklen=14, tickwidth=2, tickcolor="black",
    minor=dict(ticks="inside", dtick=5, tick0=0, ticklen=8, tickwidth=2, tickcolor="black", showgrid=False),
    showline=True, linewidth=LW, linecolor="black", mirror="ticks",
    showgrid=False, zeroline=False, showticklabels=False)
fig.update_xaxes(showticklabels=True, tickfont=dict(family=SANS, size=27, color="black"),
                 ticklabelstandoff=5, row=7, col=1)

fig.update_yaxes(
    type="log", dtick=1, ticks="inside", ticklen=14, tickwidth=2, tickcolor="black",
    minor=dict(ticks="inside", dtick="D1", ticklen=8, tickwidth=1.5, tickcolor="black", showgrid=False),
    showline=True, linewidth=LW, linecolor="black", mirror="ticks",
    showgrid=False, zeroline=False, showticklabels=False)

fig.add_annotation(x=0.5, y=(0 - (1347 - (H - M_B))) / plot_h, xref="paper", yref="paper",
                   text="Decay time (ns)", showarrow=False, xanchor="center", yanchor="middle",
                   font=dict(family=SANS, size=28, color="black"))
fig.add_annotation(x=(18 - M_L) / (W - M_L - M_R), y=0.5, xref="paper", yref="paper",
                   text="Intensity (a. u.)", showarrow=False, xanchor="center", yanchor="middle",
                   textangle=-90, font=dict(family=SANS, size=28, color="black"))

fig.update_layout(
    width=W, height=H,
    margin=dict(l=M_L, r=M_R, t=M_T, b=M_B),
    paper_bgcolor="white", plot_bgcolor="white",
    showlegend=False,
)

fig.write_html("out.html", config={"displayModeBar": False},
               post_script="document.body.style.margin='0px';")
